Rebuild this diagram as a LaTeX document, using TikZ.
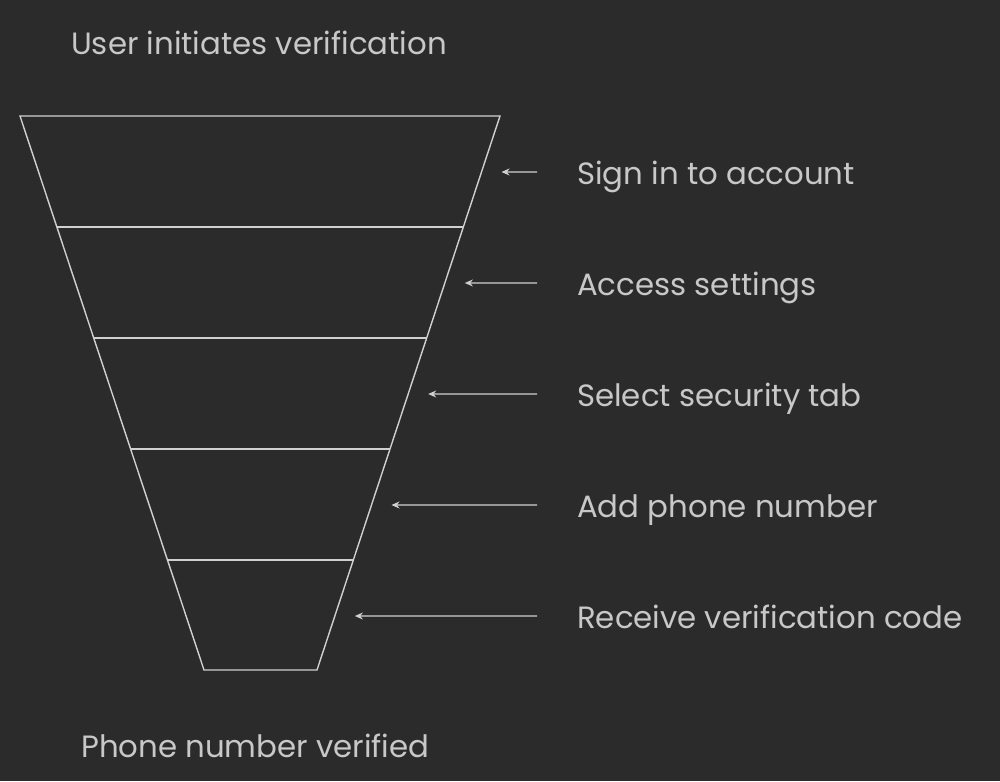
\documentclass[tikz,border=0pt]{standalone}
\usepackage{fontspec}
\setmainfont{Poppins}
\usetikzlibrary{arrows.meta,calc}
\definecolor{bg}{HTML}{2B2B2B}
\definecolor{ln}{HTML}{D0D0D0}
\definecolor{tx}{HTML}{C8C8C8}
\tikzset{
  funnel/.style={draw=ln, line width=1.4pt, line join=miter},
  band/.style={draw=ln, line width=1.4pt},
  pointer/.style={draw=ln, line width=1.2pt, -{Stealth[length=8pt,width=7pt]}},
  lbl/.style={text=tx, font=\fontsize{30.8}{36}\selectfont, anchor=base west, inner sep=0pt},
}
\begin{document}
\begin{tikzpicture}[x=1pt,y=-1pt]
\fill[bg] (0,0) rectangle (1000,781);
\useasboundingbox (0,0) rectangle (1000,781);
% funnel corners
\coordinate (TL) at (20,116);
\coordinate (TR) at (500,116);
\coordinate (BR) at (317,670);
\coordinate (BL) at (204,670);
\draw[funnel] (TL) -- (TR) -- (BR) -- (BL) -- cycle;
\foreach \y/\n in {227/1,338/2,449/3,560/4}{
  \coordinate (l\n) at ($(TL)!{(\y-116)/554}!(BL)$);
  \coordinate (r\n) at ($(TR)!{(\y-116)/554}!(BR)$);
  \draw[band] (l\n) -- (r\n);
}
% labels
\node[lbl] (top) at (71,55) {User initiates verification};
\node[lbl] (bot) at (81,757) {Phone number verified};
\foreach \y/\n/\t in {172/1/Sign in to account,283/2/Access settings,394/3/Select security tab,505/4/Add phone number,616/5/Receive verification code}{
  \node[lbl] (s\n) at (577,\y+12) {\t};
  \coordinate (a\n) at (537,\y);
  \coordinate (e\n) at ($(TR)!{(\y-116)/554}!(BR)$);
  \coordinate (t\n) at ($(e\n)+(20,0)$);
  \draw[pointer] (a\n) -- (t\n);
}
\end{tikzpicture}
\end{document}
